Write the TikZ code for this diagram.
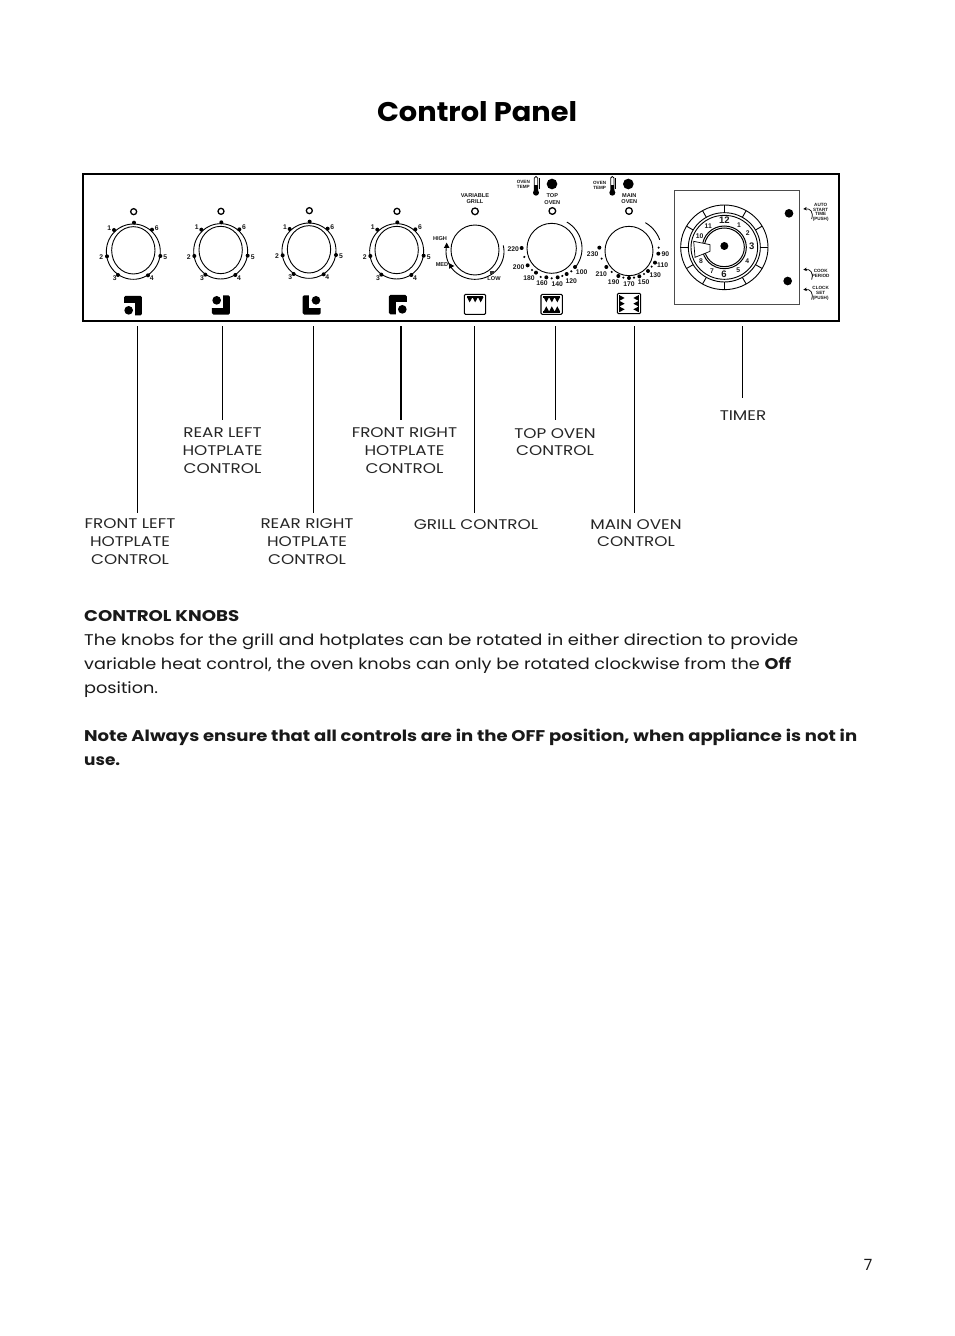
\documentclass[tikz,border=0pt]{standalone}
\usepackage{graphicx}
\usepackage{fontspec}
\setmainfont{Poppins}
\newfontfamily\hv{Liberation Sans}
\usetikzlibrary{arrows.meta}
\tikzset{
 labeltext/.style={font=\fontsize{14bp}{17.6bp}\selectfont,inner sep=0pt,text=black!85},
 leader/.style={line width=0.8bp,black},
 bodyline/.style={anchor=base west,inner sep=0pt,font=\fontsize{15.5bp}{20bp}\selectfont,text=black!90},
 ring/.style={line width=0.9bp,black},
 tiny/.style={font=\hv\bfseries\fontsize{5.6bp}{6.2bp}\selectfont,inner sep=0pt,align=center,text=black!90},
 minitext/.style={font=\hv\bfseries\fontsize{4.6bp}{4.8bp}\selectfont,inner sep=0pt,align=center,text=black!90},
 numlab/.style={font=\hv\bfseries\fontsize{6.8bp}{7bp}\selectfont,inner sep=0pt,text=black!90},
}
\newcommand{\lab}[1]{\scalebox{1.2}[1]{\begin{tabular}{@{}c@{}}#1\end{tabular}}}
\newcommand{\arcz}[6]{\draw[ring] plot[smooth,domain=#5:#6,samples=40] ({#1+#3*cos(\x)},{#2-#4*sin(\x)});}
\newcommand{\knob}[2]{% x offset, y offset
 \begin{scope}[shift={(#1,#2)}]
  \draw[line width=1.3bp] (161,125) circle (9);
  \draw[ring] (160,241) ellipse [x radius=65,y radius=71];
  \arcz{160}{245}{81}{83}{123}{-303}
  \foreach \p/\q in {162/158,102/180,216/179,81/259,241/258,114/315,204/316}{\fill (\p,\q) circle (6);}
  \node[numlab] at (88,173) {1};
  \node[numlab] at (230,173) {6};
  \node[numlab] at (64,262) {2};
  \node[numlab] at (256,262) {5};
  \node[numlab] at (104,325) {3};
  \node[numlab] at (215,325) {4};
 \end{scope}}
\newcommand{\hotsym}[4]{% centre x,y in zoom px, quadrant signs for the circle
 \fill[rounded corners=1.5bp] (#1-27,#2-29) rectangle (#1+27,#2+29);
 \fill[white] (#1+#3*-7,#2+#4*-8) rectangle (#1+#3*30,#2+#4*32);
 \fill (#1+#3*13,#2+#4*14) circle (13);}
\newcommand{\tdown}[2]{\fill (#1-8.5,#2-8) -- (#1+8.5,#2-8) -- (#1,#2+8) -- cycle;}
\newcommand{\tup}[2]{\fill (#1-8.5,#2+8) -- (#1+8.5,#2+8) -- (#1,#2-8) -- cycle;}
\newcommand{\tright}[2]{\fill (#1-8,#2-8.5) -- (#1-8,#2+8.5) -- (#1+8,#2) -- cycle;}
\newcommand{\tleft}[2]{\fill (#1+8,#2-8.5) -- (#1+8,#2+8.5) -- (#1-8,#2) -- cycle;}
\newcommand{\thermo}[2]{%
 \draw[line width=0.8bp] (#1-5,#2+18) -- (#1-5,#2-24) .. controls (#1-5,#2-30) and (#1+5,#2-30) .. (#1+5,#2-24) -- (#1+5,#2+18);
 \fill (#1,#2+20) circle (9);
 \fill (#1-5,#2-4) rectangle (#1+5,#2+18);
 \draw[line width=0.4bp] (#1+9,#2-24) -- (#1+9,#2+10);}
\begin{document}
\begin{tikzpicture}[x=1bp,y=-1bp]
\useasboundingbox (0,0) rectangle (954,1336);
\fill[white] (0,0) rectangle (954,1336);
% title
\node[inner sep=0pt] (title) at (477,111.5) {\resizebox{200bp}{\height}{\fontsize{27bp}{32bp}\selectfont\bfseries Control Panel}};
% panel
\draw[line width=2bp] (83,174) rectangle (839,320.5);
% hotplate knobs
\begin{scope}[shift={(80,170)},x=0.33333bp,y=-0.33333bp]
 \knob{0}{0}
 \knob{262}{-1}
 \knob{527}{-3}
 \knob{790}{-1}
 \hotsym{159}{407}{-1}{1}
 \hotsym{423}{405}{-1}{-1}
 \hotsym{695}{405}{1}{-1}
 \hotsym{954}{404}{1}{1}
\end{scope}
% oven section
\begin{scope}[shift={(430,170)},x=0.33333bp,y=-0.33333bp]
 % grill
 \node[tiny] (vg) at (135,85) {VARIABLE\\GRILL};
 \draw[line width=1.3bp] (135,124) circle (10);
 \draw[ring] (135,240) ellipse [x radius=72,y radius=75];
 \arcz{135}{245}{87}{83}{13}{-190}
 \node[tiny] (hi) at (30,205) {HIGH};
 \node[tiny] (med) at (36,283) {MED};
 \node[tiny] (lo) at (192,327) {LOW};
 \tup{50}{226}
 \tright{65}{288}
 \fill[black!80] (179,303) rectangle (191,312);
 % top oven
 \node[minitext] (oventempa) at (280,42) {OVEN\\TEMP};
 \thermo{318}{48}
 \fill (366,42) circle (16);
 \node[tiny] (topoven) at (367,87) {TOP\\OVEN};
 \draw[line width=1.3bp] (367,123) circle (10);
 \draw[ring] (365,235) ellipse [x radius=74,y radius=75];
 \arcz{365}{235}{91}{91}{60}{-38}
 \foreach \p/\q in {275/234,293/286,318/308,349/322,383/322,410/312,435/291}{\fill (\p,\q) circle (6);}
 \foreach \p/\q in {283/261,306/300,332/321,365/325,397/318,424/304}{\fill (\p,\q) circle (3.5);}
 \foreach \t/\p/\q in {220/250/236,200/266/291,180/297/323,160/336/339,140/382/343,120/424/332,100/455/305}{\node[numlab] at (\p,\q) {\t};}
 % main oven
 \node[minitext] (oventempb) at (509,45) {OVEN\\TEMP};
 \thermo{547}{48}
 \fill (595,42) circle (16);
 \node[tiny] (mainoven) at (598,87) {MAIN\\OVEN};
 \draw[line width=1.3bp] (597,123) circle (10);
 \draw[ring] (597,243) ellipse [x radius=72,y radius=74];
 \arcz{597}{243}{98}{98}{60}{20}
 \foreach \p/\q in {508/233,529/291,565/318,597/324,628/319,654/303,675/278,685/251}{\fill (\p,\q) circle (6);}
 \foreach \p/\q in {515/266,545/306,580/323,612/323,642/312,665/290,686/233}{\fill (\p,\q) circle (3.5);}
 \foreach \t/\p/\q in {230/488/252,210/514/311,190/551/335,170/597/343,150/641/337,130/676/316,110/698/285,90/706/253}{\node[numlab] at (\p,\q) {\t};}
 % symbols
 \draw[line width=1.1bp,rounded corners=1.2bp] (103,373) rectangle (167,433);
 \fill (111,379) rectangle (160,383);
 \foreach \p in {119,135.5,152}{\tdown{\p}{389}}
 \draw[line width=1.1bp,rounded corners=1.2bp] (333,373) rectangle (397,433);
 \fill (340,379) rectangle (390,383);
 \fill (340,424) rectangle (390,428);
 \foreach \p in {349,365.5,382}{\tdown{\p}{389}\tup{\p}{417}}
 \draw[line width=1.1bp,rounded corners=1.2bp] (562,370) rectangle (632,431);
 \fill (566,375) rectangle (570,426);
 \fill (624,375) rectangle (628,426);
 \foreach \q in {384,401,418}{\tright{576}{\q}\tleft{618}{\q}}
\end{scope}
% timer
\begin{scope}[shift={(665,170)},x=0.33333bp,y=-0.33333bp]
 \draw[line width=0.6bp,black!70] (28,60) rectangle (404,402);
 \draw[ring] (178,232) ellipse [x radius=131,y radius=127];
 \draw[ring] (178,232) ellipse [x radius=108,y radius=104];
 \draw[ring] (178,232) ellipse [x radius=100,y radius=96];
 \draw[line width=1bp] (178,232) ellipse [x radius=66,y radius=64];
 \draw[line width=1bp] (178,232) ellipse [x radius=60,y radius=58];
 \foreach \a in {0,30,...,330}{\draw[ring] ({178+108*cos(\a)},{232-104*sin(\a)}) -- ({178+131*cos(\a)},{232-127*sin(\a)});}
 \filldraw[fill=white,draw=black,line width=0.7bp] (86,214) -- (135,224) -- (135,244) -- (90,262) -- cycle;
 \fill (178,228) circle (12);
 \foreach \t/\p/\q in {11/130/167,1/222/165,2/248/190,4/247/273,5/220/300,7/141/304,8/108/272,10/104/198}{\node[numlab] at (\p,\q) {\t};}
 \foreach \t/\p/\q in {12/178/152,3/260/230,6/177/312}{\node[font=\hv\bfseries\fontsize{9.5bp}{10bp}\selectfont,inner sep=0pt,text=black!90] at (\p,\q) {\t};}
 \fill (372,130) circle (13);
 \fill (368,333) circle (13);
 \node[minitext] (auto) at (467,127) {AUTO\\START\\TIME\\(PUSH)};
 \node[minitext] (cook) at (467,310) {COOK\\PERIOD};
 \node[minitext] (clock) at (467,371) {CLOCK\\SET\\(PUSH)};
 \foreach \q in {130,312,372}{\draw[line width=0.7bp,-{Stealth[length=3.5bp,width=3.5bp]}] (440,\q+17) .. controls (446,\q-5) and (436,\q-15) .. (415,\q-13);}
\end{scope}
% labels
\node[labeltext] (fl) at (130,543) {\lab{FRONT LEFT\\HOTPLATE\\CONTROL}};
\node[labeltext] (rl) at (222.5,452) {\lab{REAR LEFT\\HOTPLATE\\CONTROL}};
\node[labeltext] (rr) at (307,543) {\lab{REAR RIGHT\\HOTPLATE\\CONTROL}};
\node[labeltext] (fr) at (404.5,452) {\lab{FRONT RIGHT\\HOTPLATE\\CONTROL}};
\node[labeltext] (gc) at (476,525.5) {\lab{GRILL CONTROL}};
\node[labeltext] (tc) at (555,443.5) {\lab{TOP OVEN\\CONTROL}};
\node[labeltext] (mc) at (636,534.5) {\lab{MAIN OVEN\\CONTROL}};
\node[labeltext] (ti) at (743,416.5) {\lab{TIMER}};
% connectors
\coordinate (a1) at (137,326);\coordinate (b1) at (137,513);
\coordinate (a2) at (222,326);\coordinate (b2) at (222,420);
\coordinate (a3) at (313,326);\coordinate (b3) at (313,513);
\coordinate (a4) at (401,326);\coordinate (b4) at (401,420);
\coordinate (a5) at (474,326);\coordinate (b5) at (474,513);
\coordinate (a6) at (555,326);\coordinate (b6) at (555,420);
\coordinate (a7) at (634,326);\coordinate (b7) at (634,513);
\coordinate (a8) at (742,326);\coordinate (b8) at (742,398);
\foreach \i in {1,2,3,5,6,7,8}{\draw[leader] (a\i) -- (b\i);}
\draw[leader,line width=1.6bp] (a4) -- (b4);
% body
\node[bodyline] (h) at (84,621) {\resizebox{155bp}{\height}{\bfseries CONTROL KNOBS}};
\node[bodyline] (l1) at (84,645) {\resizebox{714bp}{\height}{The knobs for the grill and hotplates can be rotated in either direction to provide}};
\node[bodyline] (l2) at (84,669) {\resizebox{707bp}{\height}{variable heat control, the oven knobs can only be rotated clockwise from the \textbf{Off}}};
\node[bodyline] (l3) at (84,693) {\resizebox{74bp}{\height}{position.}};
\node[bodyline] (n1) at (84,741) {\resizebox{773bp}{\height}{\bfseries Note Always ensure that all controls are in the OFF position, when appliance is not in}};
\node[bodyline] (n2) at (84,765) {\resizebox{36bp}{\height}{\bfseries use.}};
\node[bodyline,anchor=center] (pg) at (868,1265) {7};
\end{tikzpicture}
\end{document}
